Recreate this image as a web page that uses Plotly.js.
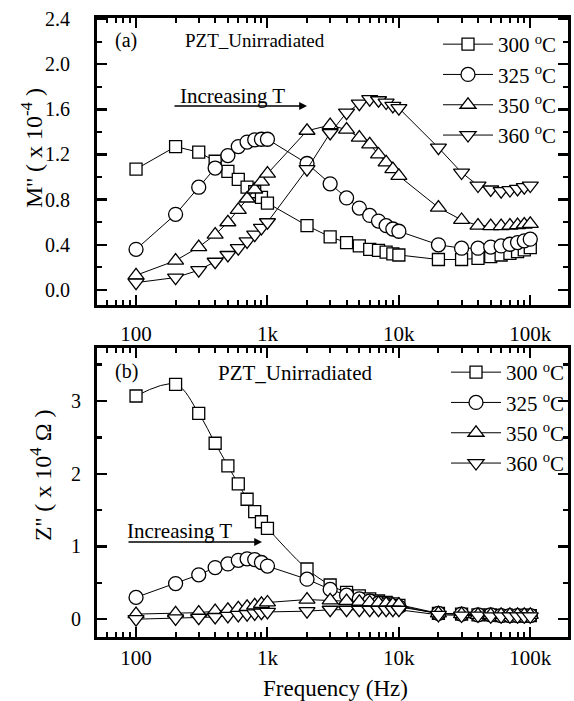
<!DOCTYPE html>
<html>
<head>
<meta charset="utf-8">
<script src="https://cdn.plot.ly/plotly-3.0.1.min.js"></script>
<style>
  html, body { margin: 0; padding: 0; background: #fff; }
  #chart { width: 574px; height: 701px; }
</style>
</head>
<body>
<div id="chart"></div>
<script>
// Measurement frequencies (Hz)
const freq = [100, 200, 300, 400, 500, 600, 700, 800, 900, 1000,
              2000, 3000, 4000, 5000, 6000, 7000, 8000, 9000, 10000,
              20000, 30000, 40000, 50000, 60000, 70000, 80000, 90000, 100000];

// Temperatures (legend labels)
const temps = ['300', '325', '350', '360'];
const symbols = ['square', 'circle', 'triangle-up', 'triangle-down'];

// (a) electric modulus M'' (x 1e-4)
const m300 = [1.07, 1.27, 1.22, 1.14, 1.05, 0.98, 0.91, 0.87, 0.82, 0.77,
              0.57, 0.47, 0.42, 0.39, 0.36, 0.35, 0.335, 0.32, 0.31,
              0.27, 0.27, 0.28, 0.295, 0.31, 0.325, 0.34, 0.355, 0.375];
const m325 = [0.36, 0.67, 0.91, 1.08, 1.19, 1.27, 1.31, 1.33, 1.335, 1.335,
              1.12, 0.94, 0.815, 0.725, 0.66, 0.61, 0.57, 0.54, 0.52,
              0.40, 0.37, 0.37, 0.38, 0.39, 0.405, 0.42, 0.435, 0.45];
const m350 = [0.13, 0.26, 0.38, 0.49, 0.60, 0.71, 0.81, 0.89, 0.96, 1.03,
              1.41, 1.46, 1.42, 1.35, 1.29, 1.20, 1.13, 1.07, 1.01,
              0.73, 0.62, 0.57, 0.565, 0.565, 0.57, 0.575, 0.58, 0.585];
const m360 = [0.065, 0.11, 0.175, 0.25, 0.31, 0.37, 0.43, 0.49, 0.55, 0.60,
              1.07, 1.39, 1.57, 1.65, 1.69, 1.68, 1.66, 1.63, 1.61,
              1.26, 1.04, 0.925, 0.89, 0.875, 0.885, 0.895, 0.91, 0.925];

// (b) impedance Z'' (x 1e4 ohm)
const z300 = [3.07, 3.23, 2.83, 2.42, 2.11, 1.86, 1.65, 1.48, 1.34, 1.25,
              0.69, 0.47, 0.37, 0.32, 0.28, 0.25, 0.23, 0.21, 0.19,
              0.08, 0.07, 0.06, 0.06, 0.05, 0.05, 0.05, 0.05, 0.05];
const z325 = [0.30, 0.49, 0.61, 0.71, 0.76, 0.81, 0.83, 0.82, 0.78, 0.73,
              0.55, 0.41, 0.33, 0.28, 0.25, 0.22, 0.20, 0.18, 0.17,
              0.08, 0.07, 0.06, 0.06, 0.05, 0.05, 0.05, 0.05, 0.05];
const z350 = [0.07, 0.08, 0.09, 0.11, 0.13, 0.15, 0.17, 0.19, 0.21, 0.23,
              0.27, 0.26, 0.25, 0.24, 0.23, 0.22, 0.21, 0.205, 0.20,
              0.08, 0.07, 0.06, 0.06, 0.06, 0.06, 0.06, 0.06, 0.06];
const z360 = [0.0, 0.01, 0.02, 0.03, 0.045, 0.06, 0.07, 0.08, 0.09, 0.10,
              0.11, 0.13, 0.13, 0.13, 0.13, 0.13, 0.13, 0.13, 0.13,
              0.06, 0.05, 0.05, 0.04, 0.04, 0.04, 0.04, 0.04, 0.04];

// Axis ticks
const xTickVals = [100, 1000, 10000, 100000];
const xTickText = ['100', '1k', '10k', '100k'];
const xMinor = [60, 70, 80, 90, 200, 300, 400, 500, 600, 700, 800, 900,
                2000, 3000, 4000, 5000, 6000, 7000, 8000, 9000,
                20000, 30000, 40000, 50000, 60000, 70000, 80000, 90000];
const mTickVals = [0, 0.4, 0.8, 1.2, 1.6, 2.0, 2.4];
const mTickText = ['0.0', '0.4', '0.8', '1.2', '1.6', '2.0', '2.4'];
const mMinor = [0.2, 0.6, 1.0, 1.4, 1.8, 2.2];
const zTickVals = [0, 1, 2, 3];
const zTickText = ['0', '1', '2', '3'];
const zMinor = [0.5, 1.5, 2.5, 3.5];

const FONT = 'Liberation Serif';
const seriesM = [m300, m325, m350, m360];
const seriesZ = [z300, z325, z350, z360];

function makeTrace(y, i, panel) {
  const top = panel === 1;
  return {
    x: freq, y: y,
    type: 'scatter', mode: 'lines+markers',
    name: temps[i] + ' <sup>o</sup>C',
    xaxis: top ? 'x' : 'x2',
    yaxis: top ? 'y' : 'y2',
    legend: top ? 'legend' : 'legend2',
    line: { color: '#000', width: 1,
            shape: (!top && i === 0) ? 'spline' : 'linear', smoothing: 1 },
    marker: { symbol: symbols[i], size: i === 0 ? 12 : 14,
              color: '#fff', line: { color: '#000', width: 1.3 } },
    cliponaxis: false
  };
}

const traces = [];
seriesM.forEach((s, i) => traces.push(makeTrace(s, i, 1)));
seriesZ.forEach((s, i) => traces.push(makeTrace(s, i, 2)));

const W = 574, H = 701;
const px = v => v / W;
const py = v => 1 - v / H;

function xAxis(anchor, standoff) {
  return {
    anchor: anchor, type: 'log', domain: [px(97), px(568)],
    range: [1.703, 5.287],
    tickmode: 'array', tickvals: xTickVals, ticktext: xTickText,
    ticks: 'inside', ticklen: 10, tickwidth: 2, tickcolor: '#000',
    minor: { tickmode: 'array', tickvals: xMinor, ticks: 'inside', ticklen: 5,
             tickwidth: 2, tickcolor: '#000', showgrid: false },
    showline: true, linewidth: 3, linecolor: '#000', mirror: 'allticks',
    showgrid: false, zeroline: false,
    tickfont: { family: FONT, size: 21, color: '#000' },
    ticklabelstandoff: standoff
  };
}

function label(x, y, text, size, angle) {
  return { xref: 'paper', yref: 'paper', x: px(x), y: py(y), text: text,
           xanchor: 'center', yanchor: 'middle', showarrow: false,
           textangle: angle || 0, font: { family: FONT, size: size, color: '#000' } };
}

function arrow(xHead, y, len) {
  return { xref: 'paper', yref: 'paper', x: px(xHead), y: py(y), ax: -len, ay: 0,
           text: '', showarrow: true, arrowhead: 2, arrowsize: 1.2,
           arrowwidth: 1.3, arrowcolor: '#000' };
}

const layout = {
  width: W, height: H,
  margin: { l: 0, r: 0, t: 0, b: 0 },
  paper_bgcolor: '#fff', plot_bgcolor: '#fff',
  showlegend: true,
  font: { family: FONT, color: '#000' },
  xaxis: xAxis('y', 8),
  xaxis2: xAxis('y2', 0),
  yaxis: {
    anchor: 'x', domain: [py(305), py(17.5)], range: [-0.133, 2.413],
    tickmode: 'array', tickvals: mTickVals, ticktext: mTickText,
    ticks: 'inside', ticklen: 10, tickwidth: 2.5, tickcolor: '#000',
    minor: { tickmode: 'array', tickvals: mMinor, ticks: 'inside', ticklen: 5,
             tickwidth: 2, tickcolor: '#000', showgrid: false },
    showline: true, linewidth: 3, linecolor: '#000', mirror: 'allticks',
    showgrid: false, zeroline: false,
    tickfont: { family: FONT, size: 20, color: '#000' },
    ticklabelstandoff: 20
  },
  yaxis2: {
    anchor: 'x2', domain: [py(637), py(348)], range: [-0.245, 3.73],
    tickmode: 'array', tickvals: zTickVals, ticktext: zTickText,
    ticks: 'inside', ticklen: 10, tickwidth: 2.5, tickcolor: '#000',
    minor: { tickmode: 'array', tickvals: zMinor, ticks: 'inside', ticklen: 5,
             tickwidth: 2.5, tickcolor: '#000', showgrid: false },
    showline: true, linewidth: 3, linecolor: '#000', mirror: 'allticks',
    showgrid: false, zeroline: false,
    tickfont: { family: FONT, size: 20, color: '#000' },
    ticklabelstandoff: 9
  },
  legend: {
    x: px(438), y: py(24), xanchor: 'left', yanchor: 'top',
    bgcolor: 'rgba(0,0,0,0)', borderwidth: 0,
    font: { family: FONT, size: 21, color: '#000' },
    itemwidth: 50, tracegroupgap: 0
  },
  legend2: {
    x: px(446), y: py(352), xanchor: 'left', yanchor: 'top',
    bgcolor: 'rgba(0,0,0,0)', borderwidth: 0,
    font: { family: FONT, size: 21, color: '#000' },
    itemwidth: 50, tracegroupgap: 0
  },
  annotations: [
    // panel (a)
    label(126, 41, '(a)', 20),
    label(255, 41, 'PZT_Unirradiated', 19),
    label(232, 96, 'Increasing T', 21),
    arrow(307, 106, 134),
    // panel (b)
    label(126, 371, '(b)', 20),
    label(295, 373, 'PZT_Unirradiated', 21),
    label(179, 531, 'Increasing T', 21),
    arrow(262, 542, 135),
    // axis titles
    label(32, 148, 'M\'\' ( x 10<sup>-4</sup> )', 24, -90),
    label(41, 475, 'Z\'\' ( x 10<sup>4</sup> \u03A9 )', 24, -90),
    label(335, 688, 'Frequency (Hz)', 23)
  ]
};

Plotly.newPlot('chart', traces, layout, { staticPlot: true, displayModeBar: false });
</script>
</body>
</html>
